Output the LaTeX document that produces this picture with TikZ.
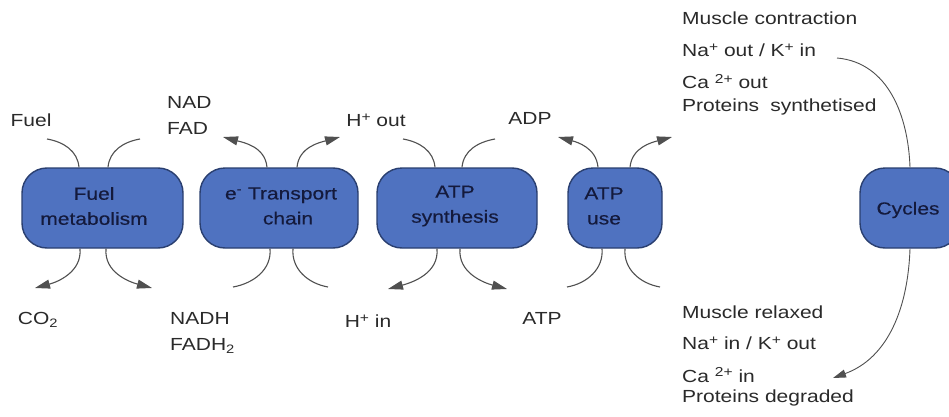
\documentclass[tikz,border=0pt]{standalone}
\usepackage{fontspec}
\setmainfont{Liberation Sans}[FakeStretch=1.2]
\newfontfamily\boxfont{Liberation Sans}[FakeStretch=1.2, FakeBold=0.4]
\usetikzlibrary{arrows.meta}
\newcommand\supsgn[1]{\raisebox{0.55ex}{\fontsize{13}{13}\selectfont #1}}
\definecolor{boxfill}{HTML}{4F72C0}
\definecolor{boxline}{HTML}{2A3F70}
\definecolor{boxtext}{HTML}{141A3C}
\definecolor{lbl}{HTML}{2A2A2A}
\definecolor{wire}{HTML}{505050}
\tikzset{
  procbox/.style={draw=boxline, line width=1.4pt, fill=boxfill, rounded corners=25pt,
    minimum height=80pt, inner sep=0pt},
  boxlbl/.style={text=boxtext, font=\boxfont\fontsize{17.5}{25}\selectfont, align=center, inner sep=0pt},
  lab/.style={text=lbl, font=\fontsize{17.5}{26}\selectfont, inner sep=0pt},
  wirel/.style={draw=wire, line width=1.1pt},
  wirea/.style={draw=wire, line width=1.1pt, -{Triangle[length=15pt,width=9pt]}},
}
\begin{document}
\begin{tikzpicture}[x=1pt,y=1pt]
\useasboundingbox (0,0) rectangle (949,416);
\clip (0,0) rectangle (949,416);
\fill[white] (0,0) rectangle (949,416);

% boxes
\node[procbox, minimum width=161pt] (b1) at (102.5,208) {};
\node[procbox, minimum width=158pt] (b2) at (279,208) {};
\node[procbox, minimum width=160pt] (b3) at (457,208) {};
\node[procbox, minimum width=94pt] (b4) at (615,208) {};
\node[procbox, minimum width=100pt] (cy) at (910,208) {};

\node[boxlbl] (t1) at (94,210) {Fuel\\metabolism};
\node[boxlbl] (t2) at (281,210) {e\textsuperscript{-} Transport\\\hspace*{0.8em}chain};
\node[boxlbl] (t3) at (455,210) {ATP\\synthesis};
\node[boxlbl] (t4) at (604,210) {ATP\\use};
\node[boxlbl] (t5) at (908,206) {Cycles};

% labels
\node[lab] (fuel) at (31,296) {Fuel};
\node[lab, anchor=west, align=left] (nad) at (167,301) {NAD\\FAD};
\node[lab] (hout) at (376,296) {H\supsgn{+} out};
\node[lab] (adp) at (530,298) {ADP};
\node[lab] (co2) at (38,96) {CO\textsubscript{2}};
\node[lab, anchor=west, align=left] (nadh) at (170,83) {NADH\\FADH\textsubscript{2}};
\node[lab] (hin) at (368,95) {H\supsgn{+} in};
\node[lab] (atp) at (542,98) {ATP};

\node[lab, anchor=west] (r1) at (682,398) {Muscle contraction};
\node[lab, anchor=west] (r2) at (682,366) {Na\supsgn{+} out / K\supsgn{+} in};
\node[lab, anchor=west] (r3) at (682,334) {Ca \supsgn{2+} out};
\node[lab, anchor=west] (r4) at (682,309) {Proteins\hspace{0.3em} synthetised};
\node[lab, anchor=west] (s1) at (682,104) {Muscle relaxed};
\node[lab, anchor=west] (s2) at (682,73) {Na\supsgn{+} in / K\supsgn{+} out};
\node[lab, anchor=west] (s3) at (682,41) {Ca \supsgn{2+} in};
\node[lab, anchor=west] (s4) at (682,18) {Proteins degraded};

% free ends of connectors
\coordinate (e1a) at (47,277);
\coordinate (e1b) at (140,277);
\coordinate (e1c) at (35,128);
\coordinate (e1d) at (152,128);
\coordinate (e2a) at (223,279);
\coordinate (e2b) at (340,279);
\coordinate (e2c) at (233,129);
\coordinate (e2d) at (328,129);
\coordinate (e3a) at (403,277);
\coordinate (e3b) at (495,277);
\coordinate (e3c) at (388,127);
\coordinate (e3d) at (507,127);
\coordinate (e4a) at (558,279);
\coordinate (e4b) at (672,279);
\coordinate (e4c) at (567,129);
\coordinate (e4d) at (660,129);
\coordinate (ecy1) at (837,358);
\coordinate (ecy2) at (833,38);

% box 1
\draw[wirel] (e1a) to[out=-10,in=95] ([xshift=-23.5pt]b1.north);
\draw[wirel] ([xshift=5.5pt]b1.north) to[out=85,in=190] (e1b);
\draw[wirea] ([xshift=-22.5pt]b1.south) to[out=-85,in=15] (e1c);
\draw[wirea] ([xshift=3.5pt]b1.south) to[out=-95,in=165] (e1d);
% box 2
\draw[wirea] ([xshift=-12pt]b2.north) to[out=95,in=-15] (e2a);
\draw[wirea] ([xshift=18pt]b2.north) to[out=85,in=195] (e2b);
\draw[wirel] ([xshift=-9pt]b2.south) to[out=-85,in=10] (e2c);
\draw[wirel] ([xshift=14pt]b2.south) to[out=-95,in=170] (e2d);
% box 3
\draw[wirel] (e3a) to[out=-10,in=95] ([xshift=-22pt]b3.north);
\draw[wirel] ([xshift=5pt]b3.north) to[out=85,in=190] (e3b);
\draw[wirea] ([xshift=-20pt]b3.south) to[out=-85,in=15] (e3c);
\draw[wirea] ([xshift=3pt]b3.south) to[out=-95,in=165] (e3d);
% box 4
\draw[wirea] ([xshift=-17pt]b4.north) to[out=95,in=-15] (e4a);
\draw[wirea] ([xshift=15pt]b4.north) to[out=85,in=195] (e4b);
\draw[wirel] ([xshift=-13pt]b4.south) to[out=-85,in=10] (e4c);
\draw[wirel] ([xshift=10pt]b4.south) to[out=-95,in=170] (e4d);
% cycles
\draw[wirel, line width=0.9pt] (ecy1) to[out=-5,in=92] (cy.north);
\draw[line width=0.9pt, draw=wire, -{Triangle[length=13pt,width=8pt]}] (cy.south) to[out=-92,in=20] (ecy2);
\end{tikzpicture}
\end{document}
